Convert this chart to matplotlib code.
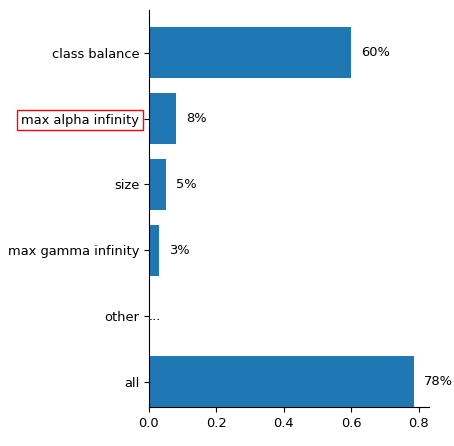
import matplotlib
matplotlib.use("Agg")
import matplotlib.pyplot as plt

# feature importance shares, top to bottom
labels = ["class balance", "max alpha infinity", "size", "max gamma infinity", "other", "all"]
values = [0.60, 0.08, 0.05, 0.03, 0.0, 0.785]
texts = ["60%", "8%", "5%", "3%", "...", "78%"]
highlight = "max alpha infinity"

fig = plt.figure(figsize=(4.54, 4.46), dpi=100)
ax = fig.add_axes([0.328, 0.0874, 0.617, 0.8906])

pos = list(range(len(labels)))
ax.barh(pos, values, height=0.78, color="#1f77b4")
for p, v, t in zip(pos, values, texts):
    off = 7 if v > 0 else 0
    ax.annotate(t, (v, p), xytext=(off, 0), textcoords="offset points",
                va="center", ha="left", fontsize=9.4)

ax.set_yticks(pos)
ax.set_yticklabels(labels, fontsize=9.4)
ax.tick_params(axis="x", labelsize=9.4)
for lab in ax.get_yticklabels():
    if lab.get_text() == highlight:
        lab.set_bbox(dict(facecolor="none", edgecolor="red", boxstyle="square,pad=0.3"))

ax.set_ylim(5.38, -0.65)
ax.set_xlim(0, 0.83)
ax.set_xticks([0.0, 0.2, 0.4, 0.6, 0.8])
ax.spines["top"].set_visible(False)
ax.spines["right"].set_visible(False)

fig.savefig("out.png", dpi=100)
